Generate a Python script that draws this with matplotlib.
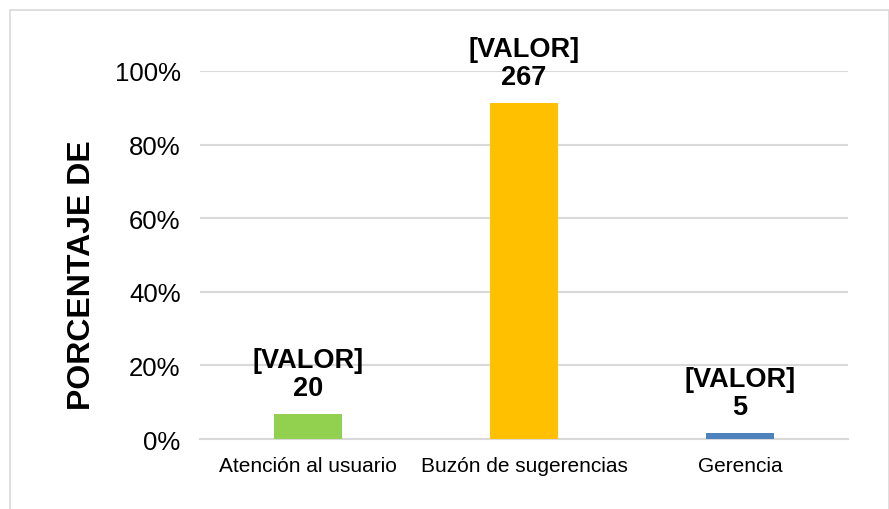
import numpy as np
import matplotlib.pyplot as plt
from matplotlib.patches import Rectangle

plt.rcParams['font.family'] = ['Liberation Sans', 'DejaVu Sans']

categorias = ['Atención al usuario', 'Buzón de sugerencias', 'Gerencia']
conteos = np.array([20, 267, 5])
colores = ['#92D050', '#FFC000', '#4F81BD']
yticks = [0, 0.2, 0.4, 0.6, 0.8, 1.0]
ytick_labels = ['0%', '20%', '40%', '60%', '80%', '100%']

porcentajes = conteos / conteos.sum()

fig = plt.figure(figsize=(8.89, 5.10), dpi=100)
ax = fig.add_axes([200 / 889, 1 - 440 / 510, 648 / 889, 368 / 510])

x = np.arange(len(categorias))
bars = ax.bar(x, porcentajes, width=0.315, color=colores, zorder=3)

for b, n in zip(bars, conteos):
    ax.annotate('[VALOR]\n%d' % n, (b.get_x() + b.get_width() / 2, b.get_height()),
                xytext=(0, 9), textcoords='offset points', ha='center', va='bottom',
                fontsize=19.5, fontweight='bold', linespacing=1.12,
                annotation_clip=False, zorder=4)

ax.set_xlim(-0.5, 2.5)
ax.set_ylim(0, 1.0)
ax.set_yticks(yticks)
ax.set_yticklabels(ytick_labels, fontsize=18.5)
ax.set_xticks(x)
ax.set_xticklabels(categorias, fontsize=15)
ax.tick_params(axis='y', length=0, pad=14)
ax.tick_params(axis='x', length=0, pad=12)
ax.grid(axis='y', color='#d9d9d9', linewidth=1.5, zorder=0)
ax.set_axisbelow(True)
for s in ['left', 'right', 'top']:
    ax.spines[s].set_visible(False)
ax.spines['bottom'].set_color('#d9d9d9')
ax.spines['bottom'].set_linewidth(1.5)

fig.text(82 / 889, 1 - 275 / 510, 'PORCENTAJE DE', rotation=90, ha='center', va='center',
         fontsize=23, fontweight='bold')

# chart border
fig.patches.append(Rectangle((9.5 / 889, -0.05), 879 / 889, 1.05 - 11 / 510,
                             transform=fig.transFigure, fill=False,
                             edgecolor='#d9d9d9', linewidth=1.2))

fig.savefig('out.png', dpi=100)
